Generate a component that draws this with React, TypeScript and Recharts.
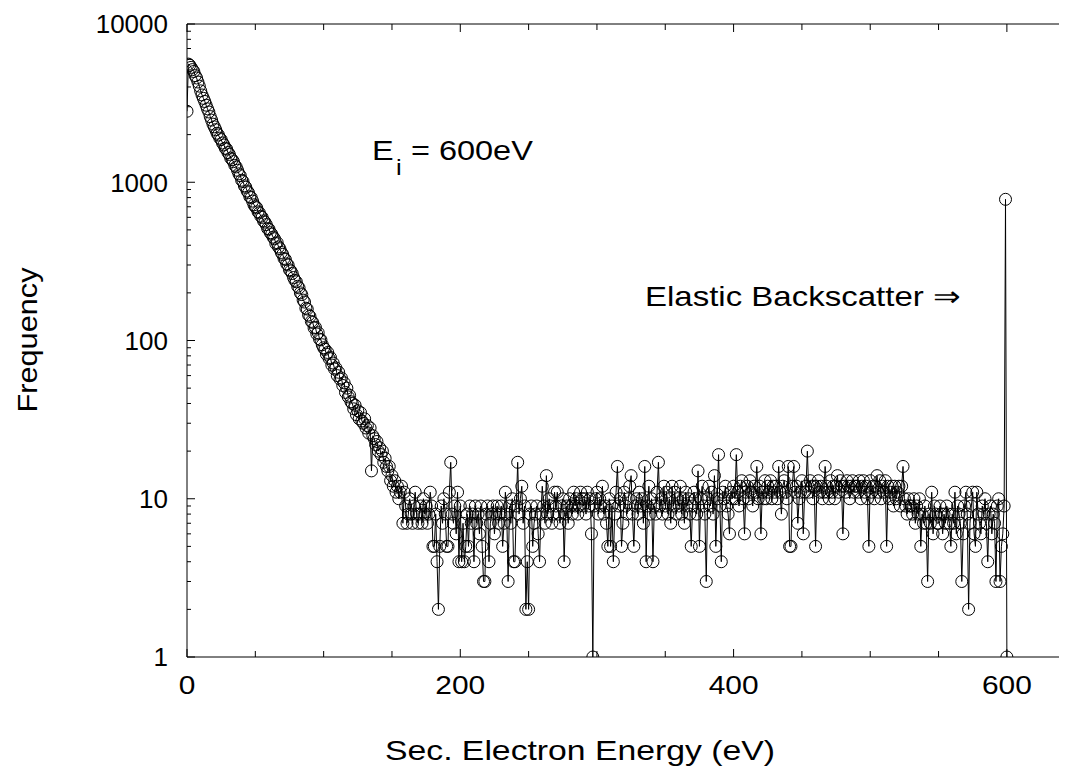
import { LineChart, Line, XAxis, YAxis } from 'recharts';

// counts per 1 eV bin
const lowEnergyCounts = [
  2810, 5580, 5490, 5320, 5150, 5010, 4720, 4560, 4300, 4050,
  3780, 3560, 3390, 3240, 3070, 2910, 2780, 2600, 2470, 2330,
  2240, 2150, 2040, 1990, 1900, 1860, 1770, 1720, 1640, 1620,
  1540, 1500, 1420, 1390, 1350, 1280, 1250, 1190, 1130, 1100,
  1030, 1010, 950, 930, 880, 860, 810, 800, 760, 720,
  700, 690, 650, 640, 610, 600, 570, 560, 540, 510,
  505, 480, 470, 450, 440, 410, 415, 390, 380, 360,
  350, 330, 325, 305, 300, 280, 275, 265, 250, 240,
  235, 220, 215, 200, 195, 180, 175, 160, 158, 145,
  142, 132, 130, 120, 121, 110, 112, 102, 101, 94,
  90, 88, 82, 84, 77, 78, 70, 72, 66, 67,
  60, 63, 57, 58, 52, 54, 47, 50, 44, 45,
  41, 40, 37, 39, 34, 36, 32, 35, 31, 30,
  32, 28, 29, 26, 28, 15, 25, 24, 22, 23,
  20, 21, 19, 20, 17, 18, 16, 15, 16, 13,
  14, 12, 13, 11, 12, 10, 11, 12, 7, 11,
];

const plateauCounts = [
  9, 7, 8, 10, 8, 7, 9, 11, 8, 7,
  8, 9, 7, 10, 8, 9, 7, 8, 11, 9,
  5, 5, 8, 4, 2, 5, 9, 7, 10, 8,
  5, 5, 11, 17, 8, 7, 9, 6, 11, 4,
  9, 4, 7, 4, 5, 8, 5, 9, 7, 8,
  4, 9, 7, 8, 6, 9, 5, 3, 3, 8,
  9, 4, 7, 8, 9, 6, 8, 9, 7, 8,
  9, 5, 7, 11, 8, 3, 9, 7, 10, 4,
  4, 9, 17, 8, 10, 12, 7, 9, 2, 4,
  2, 8, 9, 5, 7, 8, 9, 6, 4, 8,
  12, 9, 7, 14, 8, 10, 9, 7, 8, 11,
  9, 11, 8, 7, 9, 10, 4, 8, 9, 7,
  10, 9, 8, 11, 9, 10, 8, 9, 11, 10,
  9, 10, 8, 11, 9, 10, 6, 1, 9, 10,
  11, 8, 10, 9, 12, 8, 9, 7, 5, 10,
  5, 9, 4, 8, 11, 16, 9, 10, 5, 7,
  11, 9, 8, 10, 12, 14, 8, 5, 9, 10,
  8, 11, 9, 10, 7, 16, 4, 9, 12, 8,
  10, 4, 9, 8, 11, 17, 9, 10, 8, 12,
  9, 11, 8, 10, 7, 12, 9, 11, 8, 10,
  9, 12, 8, 10, 7, 11, 9, 10, 8, 5,
  9, 11, 10, 8, 15, 5, 10, 12, 9, 8,
  3, 10, 12, 9, 11, 8, 14, 5, 10, 19,
  9, 4, 11, 10, 12, 9, 8, 6, 11, 10,
];

const highEnergyCounts = [
  12, 10, 19, 11, 9, 12, 13, 10, 6, 11,
  12, 10, 13, 11, 9, 12, 11, 16, 10, 12,
  6, 11, 10, 13, 10, 12, 11, 13, 10, 12,
  11, 12, 10, 16, 11, 8, 12, 13, 11, 10,
  16, 5, 5, 12, 16, 11, 12, 7, 10, 11,
  13, 6, 11, 12, 20, 11, 13, 12, 10, 12,
  5, 12, 13, 11, 12, 10, 11, 16, 12, 11,
  10, 13, 11, 12, 10, 12, 14, 11, 13, 12,
  6, 12, 11, 13, 12, 10, 12, 13, 11, 12,
  12, 11, 13, 10, 12, 13, 11, 12, 10, 5,
  13, 11, 12, 10, 12, 14, 11, 13, 10, 12,
  11, 13, 5, 12, 10, 11, 12, 9, 12, 10,
  11, 12, 9, 12, 16, 10, 9, 8, 10, 9,
  9, 8, 10, 7, 9, 8, 10, 5, 8, 7,
  9, 7, 3, 8, 7, 11, 6, 9, 8, 7,
  7, 9, 8, 6, 8, 7, 9, 8, 7, 5,
  8, 7, 11, 6, 9, 8, 7, 3, 6, 9,
  11, 8, 2, 7, 9, 11, 6, 5, 11, 8,
  7, 6, 9, 8, 10, 7, 4, 8, 9, 6,
  8, 7, 3, 9, 10, 3, 5, 6, 9,
];

// elastic backscatter peak at 599 eV, then the 600 eV bin
const elasticCounts = [780, 1];

const xTicks = [0, 50, 100, 150, 200, 250, 300, 350, 400, 450, 500, 550, 600];
const xLabels = [0, 200, 400, 600];
const yTicks = [
  1, 2, 3, 4, 5, 6, 7, 8, 9,
  10, 20, 30, 40, 50, 60, 70, 80, 90,
  100, 200, 300, 400, 500, 600, 700, 800, 900,
  1000, 2000, 3000, 4000, 5000, 6000, 7000, 8000, 9000,
  10000,
];
const yLabels = [1, 10, 100, 1000, 10000];

const counts = [...lowEnergyCounts, ...plateauCounts, ...highEnergyCounts, ...elasticCounts];
const data = counts.map((freq, energy) => ({ energy, freq }));

const FONT = '"Liberation Sans", Arial, sans-serif';
const FS = 26;

function YTick({ x, y, payload }: any) {
  const major = yLabels.includes(payload.value);
  return (
    <g>
      <line x1={x} x2={x + (major ? 8 : 4)} y1={y} y2={y} stroke="#000" />
      {major && (
        <text x={x - 19} y={y} dy="0.36em" textAnchor="end" fontSize={FS} fontFamily={FONT} fill="#000">
          {payload.value}
        </text>
      )}
    </g>
  );
}

function BottomTick({ x, y, payload }: any) {
  const major = xLabels.includes(payload.value);
  return (
    <g>
      <line x1={x} x2={x} y1={y} y2={y - (major ? 8 : 6)} stroke="#000" />
      {major && (
        <text
          x={x}
          y={y + 28}
          dy="0.36em"
          textAnchor="middle"
          fontSize={FS}
          fontFamily={FONT}
          fill="#000"
          transform={`translate(${x} 0) scale(1.15 1) translate(${-x} 0)`}
        >
          {payload.value}
        </text>
      )}
    </g>
  );
}

function TopTick({ x, y, payload }: any) {
  const major = xLabels.includes(payload.value);
  return <line x1={x} x2={x} y1={y} y2={y + (major ? 8 : 6)} stroke="#000" />;
}

export default function App() {
  return (
    <div style={{ position: 'relative', width: 1059, height: 760 }}>
      <LineChart
        width={1059}
        height={760}
        data={data}
        margin={{ top: 15, right: 0, left: 0, bottom: 71 }}
      >
        <XAxis
          xAxisId="bottom"
          dataKey="energy"
          type="number"
          domain={[0, 644]}
          ticks={xTicks}
          interval={0}
          height={40}
          tickSize={0}
          tickMargin={0}
          tickLine={false}
          tick={BottomTick}
          axisLine={{ stroke: '#000' }}
          allowDataOverflow
        />
        <XAxis
          xAxisId="top"
          orientation="top"
          dataKey="energy"
          type="number"
          domain={[0, 644]}
          ticks={xTicks}
          interval={0}
          height={1}
          tickSize={0}
          tickMargin={0}
          tickLine={false}
          tick={TopTick}
          axisLine={{ stroke: '#000' }}
          allowDataOverflow
        />
        <YAxis
          scale="log"
          domain={[1, 10000]}
          ticks={yTicks}
          interval={0}
          width={179}
          tickSize={0}
          tickMargin={0}
          tickLine={false}
          tick={YTick}
          axisLine={{ stroke: '#000' }}
          allowDataOverflow
        />
        <Line
          xAxisId="top"
          type="linear"
          dataKey="freq"
          stroke="none"
          dot={false}
          activeDot={false}
          legendType="none"
          isAnimationActive={false}
        />
        <Line
          xAxisId="bottom"
          type="linear"
          dataKey="freq"
          stroke="#000"
          strokeWidth={1}
          dot={{ r: 6, stroke: '#000', strokeWidth: 1, fill: 'none' }}
          isAnimationActive={false}
        />
      </LineChart>
      <svg
        width={1059}
        height={760}
        style={{ position: 'absolute', left: 0, top: 0, pointerEvents: 'none' }}
        fontFamily={FONT}
        fontSize={28}
      >
        <text
          x={19}
          y={332}
          transform="rotate(-90 19 332)"
          textAnchor="middle"
          dy="0.36em"
          textLength={145}
          lengthAdjust="spacingAndGlyphs"
        >
          Frequency
        </text>
        <text
          x={572}
          y={742}
          textAnchor="middle"
          dy="0.36em"
          textLength={390}
          lengthAdjust="spacingAndGlyphs"
        >
          Sec. Electron Energy (eV)
        </text>
        <g transform="translate(364 152) scale(1.16 1)">
          <text x={0} y={0}>
            E
            <tspan fontSize={22} dx={2} dy={15}>i</tspan>
            <tspan dx={8} dy={-15}>= 600eV</tspan>
          </text>
        </g>
        <text x={637} y={298} textLength={315} lengthAdjust="spacingAndGlyphs">
          Elastic Backscatter ⇒
        </text>
      </svg>
    </div>
  );
}
